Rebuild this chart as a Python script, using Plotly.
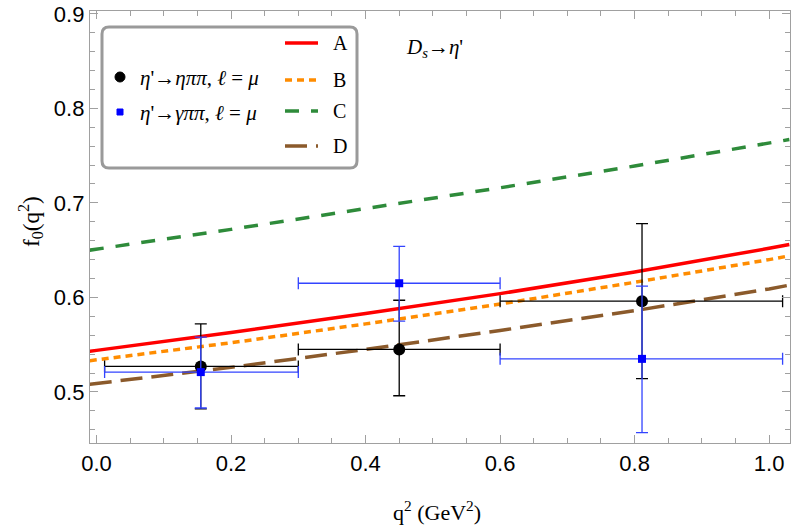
import plotly.graph_objects as go

# ---- data ----
q2_line = [-0.01, 0.0, 0.2, 0.4, 0.6, 0.8, 1.0, 1.03]
f_A = [0.543, 0.544, 0.563, 0.583, 0.604, 0.627, 0.652, 0.656]
f_B = [0.533, 0.534, 0.552, 0.572, 0.593, 0.616, 0.640, 0.644]
f_C = [0.650, 0.651, 0.672, 0.694, 0.716, 0.739, 0.763, 0.767]
f_D = [0.508, 0.509, 0.526, 0.545, 0.565, 0.586, 0.609, 0.613]

eta_x = [0.155, 0.45, 0.811]
eta_y = [0.527, 0.545, 0.596]
eta_ey_plus = [0.045, 0.052, 0.082]
eta_ey_minus = [0.045, 0.049, 0.082]
eta_ex_minus = [0.143, 0.15, 0.211]
eta_ex_plus = [0.145, 0.15, 0.209]

gam_x = [0.155, 0.45, 0.811]
gam_y = [0.521, 0.615, 0.535]
gam_ey_plus = [0.037, 0.039, 0.077]
gam_ey_minus = [0.038, 0.040, 0.078]
gam_ex_minus = [0.143, 0.15, 0.211]
gam_ex_plus = [0.145, 0.15, 0.209]

line_names = ["A", "B", "C", "D"]
line_colors = ["#ff0000", "#ff8c00", "#2e8b3a", "#8b5a2b"]
line_dashes = ["solid", "7px,5px", "14px,12px", "22px,9px"]

serif = "Liberation Serif"
sans = "Liberation Sans"

fig = go.Figure()
for ys, nm, col, ds in zip([f_A, f_B, f_C, f_D], line_names, line_colors, line_dashes):
    fig.add_trace(go.Scatter(x=q2_line, y=ys, mode="lines", name=nm,
                             line=dict(color=col, width=3.5, dash=ds),
                             showlegend=False))

fig.add_trace(go.Scatter(
    x=eta_x, y=eta_y, mode="markers", showlegend=False,
    marker=dict(color="black", size=12, symbol="circle"),
    error_y=dict(type="data", symmetric=False, array=eta_ey_plus, arrayminus=eta_ey_minus,
                 color="black", thickness=1.3, width=6),
    error_x=dict(type="data", symmetric=False, array=eta_ex_plus, arrayminus=eta_ex_minus,
                 color="black", thickness=1.3, width=6),
))
fig.add_trace(go.Scatter(
    x=gam_x, y=gam_y, mode="markers", showlegend=False,
    marker=dict(color="#0000ff", size=8, symbol="square"),
    error_y=dict(type="data", symmetric=False, array=gam_ey_plus, arrayminus=gam_ey_minus,
                 color="#3344ff", thickness=1.3, width=6),
    error_x=dict(type="data", symmetric=False, array=gam_ex_plus, arrayminus=gam_ex_minus,
                 color="#3344ff", thickness=1.3, width=6),
))

axis_common = dict(
    showline=True, linecolor="#a0a0a0", linewidth=1.3, mirror="allticks",
    ticks="inside", ticklen=8, tickcolor="#a0a0a0", tickwidth=1.2,
    showgrid=False, zeroline=False,
    tickfont=dict(family=sans, size=22, color="black"),
)

fig.update_xaxes(range=[-0.0097, 1.031], tickvals=[0, 0.2, 0.4, 0.6, 0.8, 1.0],
                 ticktext=["0.0", "0.2", "0.4", "0.6", "0.8", "1.0"],
                 minor=dict(ticks="inside", dtick=0.05, tick0=0, ticklen=5,
                            tickcolor="#a0a0a0", showgrid=False),
                 **axis_common)
fig.update_yaxes(range=[0.446, 0.903], tickvals=[0.5, 0.6, 0.7, 0.8, 0.9],
                 ticktext=["0.5", "0.6", "0.7", "0.8", "0.9"],
                 minor=dict(ticks="inside", dtick=0.02, tick0=0.5, ticklen=5,
                            tickcolor="#a0a0a0", showgrid=False),
                 **axis_common)

W, H = 793, 529
L, R, T, B = 90, 3, 11, 86


def px(x):
    return (x - L) / (W - L - R)


def py(y):
    return 1 - (y - T) / (H - T - B)


shapes = []
# legend box with rounded corners (paper coords)
x0, x1, y0, y1 = px(102), px(357), py(27), py(168)
rx = 7 / (W - L - R)
ry = 7 / (H - T - B)
path = (f"M {x0+rx},{y0} L {x1-rx},{y0} Q {x1},{y0} {x1},{y0-ry} "
        f"L {x1},{y1+ry} Q {x1},{y1} {x1-rx},{y1} L {x0+rx},{y1} "
        f"Q {x0},{y1} {x0},{y1+ry} L {x0},{y0-ry} Q {x0},{y0} {x0+rx},{y0} Z")
shapes.append(dict(type="path", xref="paper", yref="paper", path=path,
                   line=dict(color="#9a9a9a", width=3), fillcolor="white"))
# legend markers
shapes.append(dict(type="circle", xref="paper", yref="paper",
                   x0=px(115), x1=px(125), y0=py(72), y1=py(82),
                   fillcolor="black", line=dict(color="black", width=1)))
shapes.append(dict(type="rect", xref="paper", yref="paper",
                   x0=px(117), x1=px(123), y0=py(109), y1=py(115),
                   fillcolor="#0000ff", line=dict(color="#0000ff", width=1)))
# legend line samples
leg_y = [43, 80, 111, 146]
for yy, col, ds in zip(leg_y, line_colors, line_dashes):
    shapes.append(dict(type="line", xref="paper", yref="paper",
                       x0=px(285), x1=px(318), y0=py(yy), y1=py(yy),
                       line=dict(color=col, width=3.5, dash=ds)))

annotations = []
annotations.append(dict(xref="paper", yref="paper", x=px(138), y=py(78),
                        xanchor="left", yanchor="middle", showarrow=False,
                        text="<i>η</i>'→<i>ηππ</i>, <i>ℓ</i> = <i>μ</i>",
                        font=dict(family=serif, size=21, color="black")))
annotations.append(dict(xref="paper", yref="paper", x=px(138), y=py(113),
                        xanchor="left", yanchor="middle", showarrow=False,
                        text="<i>η</i>'→<i>γππ</i>, <i>ℓ</i> = <i>μ</i>",
                        font=dict(family=serif, size=21, color="black")))
for yy, nm in zip(leg_y, line_names):
    annotations.append(dict(xref="paper", yref="paper", x=px(331), y=py(yy),
                            xanchor="left", yanchor="middle", showarrow=False,
                            text=nm, font=dict(family=serif, size=20, color="black")))
annotations.append(dict(xref="paper", yref="paper", x=px(404), y=py(48),
                        xanchor="left", yanchor="middle", showarrow=False,
                        text="<i>D<sub>s</sub></i>→<i>η</i>'",
                        font=dict(family=serif, size=21, color="black")))
# axis titles
annotations.append(dict(xref="paper", yref="paper", x=px(437), y=py(511),
                        xanchor="center", yanchor="middle", showarrow=False,
                        text="q<sup>2</sup> (GeV<sup>2</sup>)",
                        font=dict(family=serif, size=22, color="black")))
annotations.append(dict(xref="paper", yref="paper", x=px(30), y=py(222),
                        xanchor="center", yanchor="middle", showarrow=False,
                        textangle=-90,
                        text="f<sub>0</sub>(q<sup>2</sup>)",
                        font=dict(family=serif, size=23, color="black")))

fig.update_layout(width=W, height=H, margin=dict(l=L, r=R, t=T, b=B),
                  plot_bgcolor="white", paper_bgcolor="white",
                  shapes=shapes, annotations=annotations, showlegend=False)

fig.write_html("out.html", config={"displayModeBar": False},
               post_script="document.body.style.margin='0px';")
